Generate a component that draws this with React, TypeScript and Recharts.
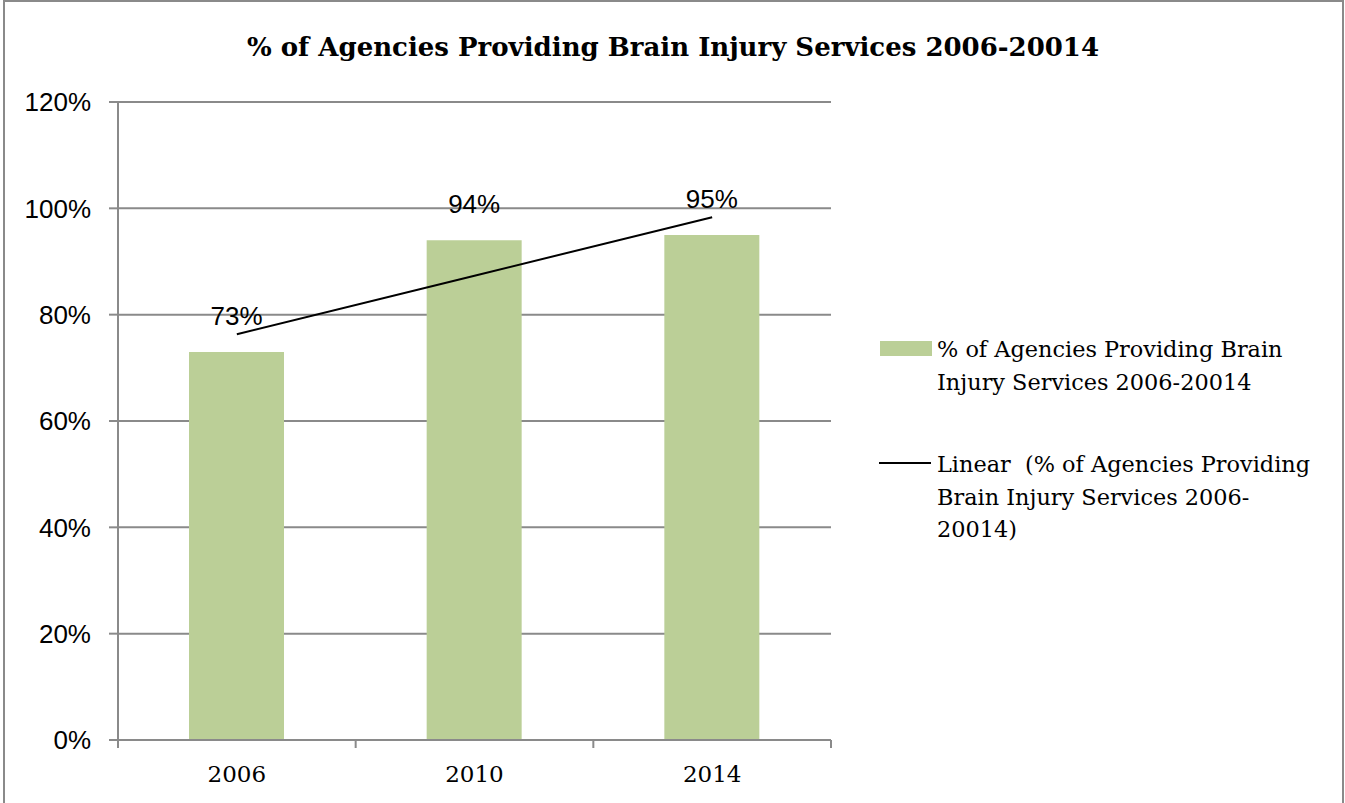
import React from 'react';
import { ComposedChart, Bar, Line, XAxis, YAxis, CartesianGrid, LabelList } from 'recharts';

const categories = ['2006', '2010', '2014'];
const shareValues = [73, 94, 95];
const trendValues = [76.33, 87.33, 98.33];
const yTicks = [0, 20, 40, 60, 80, 100, 120];

const titleText = '% of Agencies Providing Brain Injury Services 2006-20014';
const legendBarLines = ['% of Agencies Providing Brain', 'Injury Services 2006-20014'];
const legendTrendLines = ['Linear  (% of Agencies Providing', 'Brain Injury Services 2006-', '20014)'];

const data = categories.map((c, i) => ({ year: c, share: shareValues[i], trend: trendValues[i] }));

const W = 1345;
const H = 803;
const M = { top: 102, right: 514, bottom: 0, left: 0 };
const Y_AXIS_W = 118;
const X_AXIS_H = 63;
const PLOT_W = W - M.left - M.right - Y_AXIS_W;
const GRID = '#8a8a8a';
const BAR = '#BBCF97';
const SERIF = '"DejaVu Serif", serif';
const SANS = '"Liberation Sans", Arial, sans-serif';

const XTick = (props: any) => {
  const { x, y, payload, index } = props;
  const bw = PLOT_W / categories.length;
  return (
    <g>
      <line x1={x - bw / 2} x2={x - bw / 2} y1={y} y2={y + 8} stroke={GRID} strokeWidth={2} />
      {index === categories.length - 1 && (
        <line x1={x + bw / 2} x2={x + bw / 2} y1={y} y2={y + 8} stroke={GRID} strokeWidth={2} />
      )}
      <text x={x} y={y + 42} textAnchor="middle" fontFamily={SERIF} fontSize={23} fill="#000">
        {payload.value}
      </text>
    </g>
  );
};

export default function App() {
  return (
    <div style={{ position: 'absolute', left: 0, top: 0, width: W, height: H, background: '#fff', overflow: 'hidden' }}>
      <div
        style={{
          position: 'absolute',
          left: 3,
          top: 0,
          width: 1341,
          height: 810,
          boxSizing: 'border-box',
          border: `2px solid ${GRID}`,
        }}
      />
      <div style={{ position: 'absolute', left: 0, top: 0 }}>
        <ComposedChart width={W} height={H} data={data} margin={M}>
          <CartesianGrid vertical={false} stroke={GRID} strokeWidth={2} />
          <XAxis
            dataKey="year"
            height={X_AXIS_H}
            interval={0}
            axisLine={{ stroke: GRID, strokeWidth: 2 }}
            tickLine={false}
            tickSize={0}
            tickMargin={0}
            tick={<XTick />}
          />
          <YAxis
            width={Y_AXIS_W}
            domain={[0, 120]}
            ticks={yTicks}
            interval={0}
            tickFormatter={(v: number) => `${v}%`}
            axisLine={{ stroke: GRID, strokeWidth: 2 }}
            tickLine={{ stroke: GRID, strokeWidth: 2 }}
            tickSize={9}
            tickMargin={18}
            tick={{ fill: '#000', fontSize: 26, fontFamily: SANS }}
          />
          <Bar dataKey="share" fill={BAR} barSize={95} isAnimationActive={false}>
            <LabelList
              dataKey="share"
              position="top"
              offset={27}
              formatter={(v: any) => `${v}%`}
              style={{ fill: '#000', fontSize: 26, fontFamily: SANS }}
            />
          </Bar>
          <Line
            dataKey="trend"
            type="linear"
            stroke="#000"
            strokeWidth={2}
            dot={false}
            activeDot={false}
            isAnimationActive={false}
          />
        </ComposedChart>
      </div>
      <svg width={W} height={H} style={{ position: 'absolute', left: 0, top: 0, pointerEvents: 'none' }}>
        <text x={673} y={56} textAnchor="middle" fontFamily={SERIF} fontWeight="bold" fontSize={26} fill="#000">
          {titleText}
        </text>
        <rect x={880} y={341} width={52} height={15} fill={BAR} />
        {legendBarLines.map((t, i) => (
          <text key={t} x={937} y={357 + i * 32.5} fontFamily={SERIF} fontSize={22.4} fill="#000" style={{ whiteSpace: 'pre' }}>
            {t}
          </text>
        ))}
        <line x1={879} x2={931} y1={463} y2={463} stroke="#000" strokeWidth={2} />
        {legendTrendLines.map((t, i) => (
          <text key={t} x={937} y={472 + i * 32.5} fontFamily={SERIF} fontSize={22.4} fill="#000" style={{ whiteSpace: 'pre' }}>
            {t}
          </text>
        ))}
      </svg>
    </div>
  );
}
